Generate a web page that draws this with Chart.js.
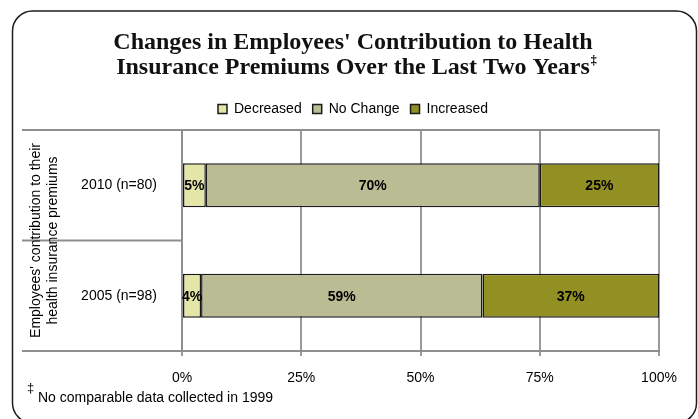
<!DOCTYPE html>
<html>
<head>
<meta charset="utf-8">
<script src="https://cdn.jsdelivr.net/npm/chart.js@4"></script>
<style>
  html, body { margin: 0; padding: 0; background: #fff; }
  #contenedor { width: 698px; height: 419px; }
</style>
</head>
<body>
<div id="contenedor"><canvas id="grafico"></canvas></div>
<script>
// Datos del gráfico
const categorias = ['2010 (n=80)', '2005 (n=98)'];
const disminuyo = [5, 4];
const sinCambio = [70, 59];
const aumento = [25, 37];
const nombresSeries = ['Decreased', 'No Change', 'Increased'];
const marcasX = [0, 25, 50, 75, 100];
const titulo = ["Changes in Employees' Contribution to Health", 'Insurance Premiums Over the Last Two Years'];
const tituloEjeY = ["Employees' contribution to their", 'health insurance premiums'];
const notaPie = 'No comparable data collected in 1999';

const fuenteTexto = "'Liberation Sans Narrow', 'Liberation Sans', Arial, sans-serif";
const fuenteTitulo = "'Liberation Serif', serif";
const grisEje = '#8f8f8f';

// Marco redondeado, líneas de separación, etiquetas y nota al pie
const decoraciones = {
  id: 'decoraciones',
  beforeDraw(chart) {
    const ctx = chart.ctx;
    ctx.save();
    ctx.fillStyle = '#ffffff';
    ctx.fillRect(0, 0, chart.width, chart.height);
    ctx.beginPath();
    ctx.roundRect(12.5, 11, 684, 412, 20);
    ctx.lineWidth = 1.5;
    ctx.strokeStyle = '#1e1e1e';
    ctx.stroke();
    ctx.restore();
  },
  afterDatasetsDraw(chart) {
    const ctx = chart.ctx;
    ctx.save();
    ctx.font = "bold 14px 'Liberation Sans', Arial, sans-serif";
    ctx.fillStyle = '#000';
    ctx.textAlign = 'center';
    ctx.textBaseline = 'middle';
    chart.data.datasets.forEach((ds, i) => {
      chart.getDatasetMeta(i).data.forEach((barra, j) => {
        const cx = (barra.x + barra.base) / 2;
        ctx.fillText(ds.data[j] + '%', cx, barra.y + 1);
      });
    });
    ctx.restore();
  },
  afterDraw(chart) {
    const ctx = chart.ctx;
    const area = chart.chartArea;
    const y = chart.scales.y;
    const izq = 22;
    ctx.save();

    // líneas de categoría a la izquierda del eje
    ctx.strokeStyle = grisEje;
    ctx.lineWidth = 2;
    const medio = (y.getPixelForValue(0) + y.getPixelForValue(1)) / 2;
    [area.top, medio, area.bottom].forEach(py => {
      ctx.beginPath();
      ctx.moveTo(izq, py);
      ctx.lineTo(area.left, py);
      ctx.stroke();
    });

    // título del eje vertical en dos líneas
    ctx.fillStyle = '#000';
    ctx.font = '14px ' + fuenteTexto;
    ctx.textAlign = 'center';
    ctx.textBaseline = 'middle';
    ctx.translate(36, (area.top + area.bottom) / 2);
    ctx.rotate(-Math.PI / 2);
    ctx.fillText(tituloEjeY[0], 0, 0);
    ctx.fillText(tituloEjeY[1], 0, 17);
    ctx.setTransform(1, 0, 0, 1, 0, 0);

    // superíndice del título
    const t = chart.titleBlock;
    ctx.font = 'bold 24px ' + fuenteTitulo;
    const anchoLinea = ctx.measureText(titulo[1]).width;
    const centroT = (t.left + t.right) / 2;
    ctx.font = 'bold 12px ' + fuenteTitulo;
    ctx.textAlign = 'left';
    ctx.fillText('\u2021', centroT + anchoLinea / 2 + 1, 61);

    // nota al pie
    ctx.font = '13px ' + fuenteTexto;
    ctx.fillText('\u2021', 27, 388);
    ctx.font = '14px ' + fuenteTexto;
    ctx.textBaseline = 'alphabetic';
    ctx.fillText(notaPie, 38, 402);
    ctx.restore();
  }
};

const ctx = document.getElementById('grafico').getContext('2d');
const colores = ['#e3e6a7', '#babd93', '#928f23'];
const series = [disminuyo, sinCambio, aumento];

new Chart(ctx, {
  type: 'bar',
  data: {
    labels: categorias,
    datasets: series.map((valores, i) => ({
      label: nombresSeries[i],
      data: valores,
      backgroundColor: colores[i],
      borderColor: '#1a1a1a',
      borderWidth: 1.5,
      borderSkipped: false,
      barPercentage: 0.4,
      categoryPercentage: 1
    }))
  },
  options: {
    indexAxis: 'y',
    responsive: true,
    maintainAspectRatio: false,
    animation: false,
    layout: { padding: { left: 47, right: 39, top: 0, bottom: 0 } },
    plugins: {
      title: {
        display: true,
        text: titulo,
        color: '#111',
        font: { family: fuenteTitulo, size: 24, weight: 'bold', lineHeight: 25 / 24 },
        padding: { top: 30.5, bottom: 10.5 }
      },
      legend: {
        display: true,
        position: 'top',
        labels: {
          color: '#000',
          font: { family: fuenteTexto, size: 14 },
          boxWidth: 9,
          boxHeight: 9,
          padding: 11
        }
      },
      tooltip: { enabled: false }
    },
    scales: {
      x: {
        stacked: true,
        min: 0,
        max: 100,
        afterBuildTicks(escala) {
          escala.ticks = marcasX.map(v => ({ value: v }));
        },
        afterFit(escala) { escala.height = 68; },
        ticks: {
          color: '#000',
          font: { family: "'Liberation Sans', Arial, sans-serif", size: 14 },
          padding: 14,
          callback: v => v + '%'
        },
        grid: { color: '#9a9a9a', lineWidth: 2, tickLength: 5 },
        border: { color: grisEje, width: 2 }
      },
      x2: {
        type: 'linear',
        position: 'top',
        min: 0,
        max: 100,
        afterFit(escala) { escala.height = 4; },
        ticks: { display: false },
        grid: { display: false },
        border: { display: true, color: grisEje, width: 2 }
      },
      y: {
        stacked: true,
        afterFit(escala) { escala.width = 135; },
        ticks: {
          color: '#000',
          font: { family: "'Liberation Sans', Arial, sans-serif", size: 14 },
          padding: 17
        },
        grid: { display: false },
        border: { color: grisEje, width: 2 }
      }
    }
  },
  plugins: [decoraciones]
});
</script>
</body>
</html>
